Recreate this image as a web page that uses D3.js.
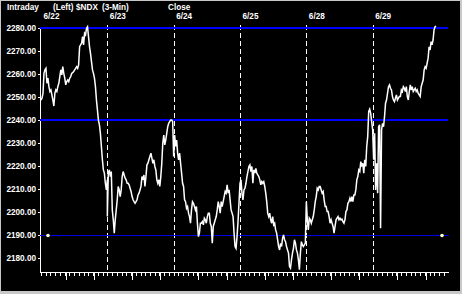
<!DOCTYPE html>
<html lang="en">
  <head>
    <meta charset="utf-8">
    <title>$NDX Intraday</title>
    <style>
      body {
        margin: 0;
        background: #c8c8c8;
      }
      svg {
        display: block;
        width: 462px;
        height: 294px;
      }
      text {
        font-family: "Liberation Sans", Arial, sans-serif;
        font-size: 8.2px;
        font-weight: bold;
        fill: #fff;
      }
      .axis path,
      .axis line {
        stroke: #fff;
        shape-rendering: crispEdges;
      }
      .axis text {
        fill: #fff;
      }
    </style>
  </head>
  <body>
    <svg id="chart"></svg>
    <script src="https://cdn.jsdelivr.net/npm/d3@7"></script>
    <script>
      // session labels (3-min bars, sampled about every 6 minutes)
      const dayLabels = ["6/22", "6/23", "6/24", "6/25", "6/28", "6/29"];
      const headerLabels = ["Intraday", "(Left)", "$NDX", "(3-Min)", "Close"];
      const yTicks = [2180, 2190, 2200, 2210, 2220, 2230, 2240, 2250, 2260, 2270, 2280];
      const levels = [2280, 2240];
      const markerLevel = 2190;

      const d622 = [2248.8, 2249.6, 2251.7, 2260.4, 2261.9, 2262.6, 2256.1, 2258.3, 2254.6, 2252.5,
        2253.2, 2251.0, 2248.8, 2246.2, 2251.7, 2253.2, 2252.5, 2254.6, 2256.1, 2259.0,
        2261.9, 2259.7, 2263.3, 2260.4, 2258.3, 2255.4, 2256.8, 2257.5, 2256.8, 2258.3,
        2259.0, 2260.4, 2260.7, 2261.2, 2261.9, 2262.6, 2263.3, 2262.6, 2264.1, 2272.0,
        2272.8, 2273.5, 2276.4, 2272.8, 2277.8, 2277.1, 2280.0, 2280.7, 2276.4, 2272.0,
        2269.1, 2265.5, 2261.9, 2260.4, 2258.3, 2254.6, 2248.8, 2244.5, 2240.1, 2238.0,
        2234.3, 2228.6, 2222.8, 2218.4, 2217.0, 2212.6, 2209.7, 2214.1];
      const d623 = [2198.1, 2217.0, 2218.4, 2215.5, 2217.7, 2201.0, 2196.7, 2190.9, 2196.7, 2201.0,
        2205.4, 2211.2, 2209.7, 2206.8, 2209.7, 2215.5, 2217.7, 2216.2, 2214.8, 2214.1,
        2212.6, 2212.6, 2211.9, 2210.4, 2209.0, 2206.8, 2205.4, 2204.6, 2203.9, 2204.6,
        2205.4, 2207.5, 2208.3, 2209.7, 2211.2, 2215.5, 2214.1, 2216.2, 2211.2, 2215.5,
        2220.6, 2221.3, 2222.8, 2224.2, 2225.7, 2223.5, 2221.3, 2222.8, 2219.9, 2218.4,
        2214.1, 2212.6, 2214.1, 2211.2, 2215.5, 2221.3, 2230.0, 2233.6, 2229.3, 2231.4,
        2234.3, 2237.2, 2238.7, 2239.4, 2240.1, 2240.1, 2239.4];
      const d624 = [2224.2, 2233.6, 2228.6, 2231.4, 2225.7, 2222.8, 2225.7, 2221.3, 2217.0, 2212.6,
        2211.2, 2205.4, 2204.6, 2201.7, 2202.5, 2199.6, 2198.1, 2195.2, 2201.0, 2204.6,
        2203.9, 2202.5, 2201.0, 2202.5, 2195.2, 2189.4, 2190.9, 2195.2, 2195.2, 2195.9,
        2194.5, 2197.4, 2196.7, 2195.2, 2198.1, 2199.6, 2199.6, 2195.2, 2193.8, 2186.5,
        2193.8, 2195.2, 2196.7, 2198.1, 2201.0, 2204.6, 2202.5, 2199.6, 2204.6, 2202.5,
        2204.6, 2206.8, 2209.0, 2208.3, 2211.9, 2208.3, 2209.7, 2205.4, 2201.0, 2199.6,
        2198.1, 2190.9, 2185.1, 2184.3, 2189.4, 2195.9];
      const d625 = [2212.6, 2214.1, 2208.3, 2205.4, 2209.7, 2210.4, 2212.6, 2215.5, 2217.7, 2219.9,
        2220.6, 2217.7, 2219.9, 2212.6, 2218.4, 2217.0, 2219.1, 2217.0, 2216.2, 2215.5,
        2214.1, 2211.9, 2213.3, 2212.6, 2213.3, 2211.2, 2208.3, 2204.6, 2199.6, 2198.1,
        2199.6, 2196.7, 2195.2, 2198.1, 2194.5, 2195.2, 2192.3, 2190.9, 2188.0, 2185.1,
        2183.6, 2186.5, 2185.1, 2188.7, 2190.1, 2188.0, 2187.2, 2185.1, 2183.6, 2182.2,
        2176.4, 2175.7, 2179.3, 2182.2, 2184.3, 2188.0, 2186.5, 2183.6, 2182.2, 2179.3,
        2175.0, 2182.2, 2187.2, 2185.8, 2185.1, 2185.8, 2186.5];
      const d628 = [2204.6, 2196.7, 2192.3, 2197.4, 2196.7, 2195.2, 2196.7, 2198.1, 2201.0, 2204.6,
        2206.8, 2210.4, 2209.7, 2211.2, 2211.2, 2209.7, 2208.3, 2209.0, 2205.4, 2202.5,
        2202.5, 2200.3, 2200.3, 2198.1, 2195.2, 2196.7, 2195.2, 2193.8, 2190.9, 2193.8,
        2196.7, 2197.4, 2198.1, 2196.7, 2197.4, 2196.7, 2197.0, 2195.9, 2195.2, 2196.7,
        2200.3, 2201.0, 2203.9, 2204.6, 2206.1, 2204.6, 2206.8, 2204.6, 2207.5, 2207.5,
        2209.7, 2214.1, 2215.5, 2218.4, 2217.7, 2222.0, 2219.9, 2221.3, 2217.0, 2222.8,
        2219.9, 2228.6, 2232.9, 2243.8, 2244.8, 2243.0];
      const d629 = [2235.8, 2222.8, 2234.3, 2209.7, 2221.3, 2208.3, 2237.2, 2238.0, 2193.0, 2235.8,
        2238.7, 2237.2, 2241.6, 2247.4, 2248.8, 2251.7, 2254.6, 2255.4, 2253.9, 2253.2,
        2250.3, 2248.8, 2248.1, 2249.6, 2251.0, 2248.8, 2249.6, 2250.3, 2250.3, 2253.2,
        2252.5, 2254.6, 2253.9, 2252.5, 2254.6, 2250.3, 2248.8, 2252.5, 2255.4, 2253.2,
        2254.6, 2252.5, 2253.2, 2253.9, 2252.5, 2253.2, 2251.7, 2251.0, 2250.3, 2254.6,
        2256.1, 2257.5, 2261.9, 2263.3, 2262.6, 2264.8, 2267.0, 2272.0, 2270.6, 2274.2,
        2272.8, 2274.9, 2279.3, 2280.7, 2281.0];
      const sessions = [d622, d623, d624, d625, d628, d629];

      const PTS = 67; // samples per session
      const points = [];
      sessions.forEach((vals, d) => {
        vals.forEach((v, i) => points.push({ t: d + i / PTS, v: v }));
      });

      var svg = d3.select("svg");

      // black panel inside grey frame
      svg.append("rect")
        .attr("x", 1).attr("y", 1)
        .attr("width", 459).attr("height", 290)
        .attr("fill", "#000");

      var x = d3.scaleLinear().domain([0, 6]).range([41, 439]);
      var y = d3.scaleLinear().domain([2174, 2280]).range([272, 28.3]);

      // header
      var headerX = [7, 53, 76, 102, 168];
      headerLabels.forEach((s, i) => {
        svg.append("text").attr("x", headerX[i]).attr("y", 9.5).text(s);
      });

      svg.selectAll(".day")
        .data(dayLabels)
        .enter()
        .append("text")
        .attr("class", "day")
        .attr("x", (d, i) => x(i) + 2.5)
        .attr("y", 18.5)
        .text(d => d);

      // session separators
      svg.selectAll(".sep")
        .data(d3.range(1, dayLabels.length))
        .enter()
        .append("line")
        .attr("class", "sep")
        .attr("x1", d => Math.round(x(d)) + 0.5)
        .attr("x2", d => Math.round(x(d)) + 0.5)
        .attr("y1", 25)
        .attr("y2", 272)
        .attr("stroke", "#fff")
        .attr("stroke-dasharray", "5,3")
        .attr("shape-rendering", "crispEdges");

      // axes
      var yAxis = svg.append("g")
        .attr("class", "axis")
        .attr("transform", "translate(40.5,0)")
        .call(d3.axisLeft(y).tickValues(yTicks).tickFormat(d3.format(".2f"))
          .tickSize(3).tickSizeOuter(0).tickPadding(1.5));
      yAxis.select(".domain").attr("d", "M0," + y(2280) + "V272.5");
      yAxis.selectAll("text")
        .style("font-size", "8.2px")
        .style("font-weight", "bold")
        .style("font-family", "'Liberation Sans', Arial, sans-serif");

      var minorTicks = d3.range(0, 6 * 14 + 2).map(i => i / 14);
      var majorTicks = [];
      d3.range(0, 6).forEach(d => { majorTicks.push(d + 0.37, d + 0.8); });

      var xAxis = svg.append("g")
        .attr("class", "axis")
        .attr("transform", "translate(0,272.5)")
        .call(d3.axisBottom(x).tickValues(minorTicks).tickFormat("").tickSize(3).tickSizeOuter(0));
      xAxis.select(".domain").attr("d", "M40,0H449");
      svg.append("g")
        .attr("class", "axis")
        .attr("transform", "translate(0,272.5)")
        .call(d3.axisBottom(x).tickValues(majorTicks).tickFormat("").tickSize(7).tickSizeOuter(0))
        .select(".domain").remove();

      // reference levels
      svg.selectAll(".level")
        .data(levels)
        .enter()
        .append("line")
        .attr("x1", 40).attr("x2", 448)
        .attr("y1", d => y(d)).attr("y2", d => y(d))
        .attr("stroke", "#0000ff")
        .attr("stroke-width", 2)
        .attr("shape-rendering", "crispEdges");

      svg.append("line")
        .attr("x1", 40).attr("x2", 449)
        .attr("y1", Math.round(y(markerLevel)) + 0.5)
        .attr("y2", Math.round(y(markerLevel)) + 0.5)
        .attr("stroke", "#0000e0")
        .attr("shape-rendering", "crispEdges");

      svg.selectAll(".dot")
        .data([48, 442])
        .enter()
        .append("circle")
        .attr("cx", d => d)
        .attr("cy", Math.round(y(markerLevel)) + 0.5)
        .attr("r", 1.8)
        .attr("fill", "#ffffc8");

      // price line
      var line = d3.line()
        .x(d => x(d.t))
        .y(d => y(d.v));

      svg.append("path")
        .datum(points)
        .attr("fill", "none")
        .attr("stroke", "#fff")
        .attr("stroke-width", 1.5)
        .attr("stroke-linejoin", "miter")
        .attr("d", line);
    </script>
  </body>
</html>
